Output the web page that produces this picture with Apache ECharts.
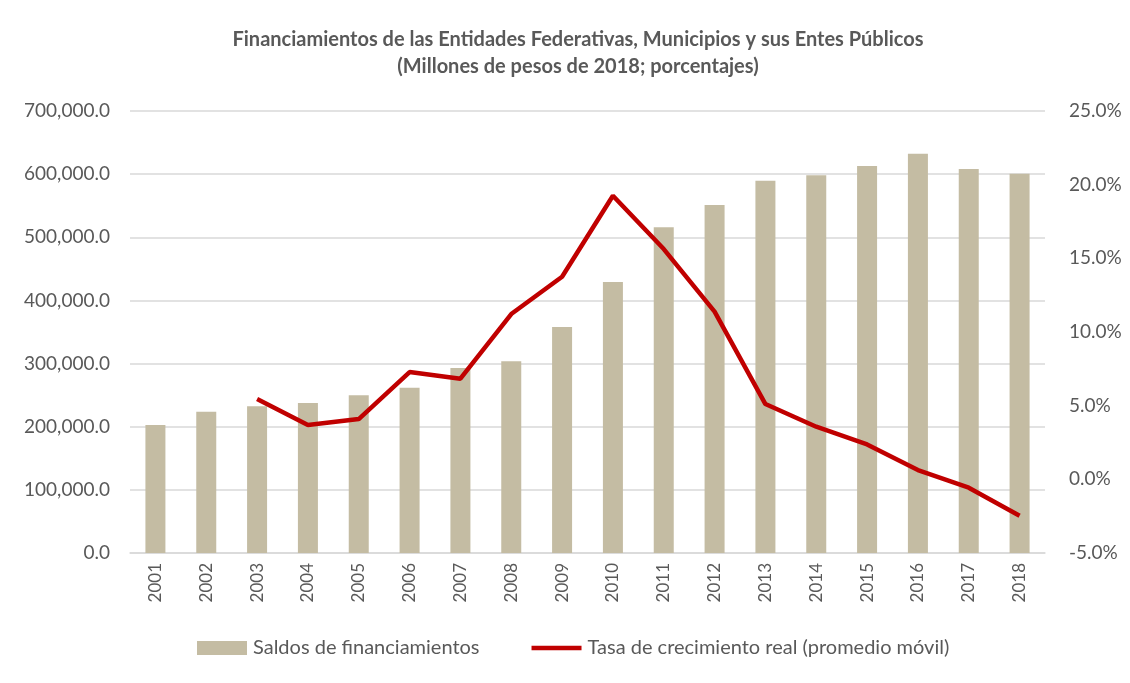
<!DOCTYPE html>
<html>
<head>
<meta charset="utf-8">
<script src="https://cdn.jsdelivr.net/npm/echarts@6/dist/echarts.min.js"></script>
<style>
html,body{margin:0;padding:0;background:#fff;}
#chart{width:1130px;height:683px;}
</style>
</head>
<body>
<div id="chart"></div>
<script>
const years = ['2001','2002','2003','2004','2005','2006','2007','2008','2009','2010','2011','2012','2013','2014','2015','2016','2017','2018'];
const saldos = [202700, 223800, 232300, 237600, 249700, 261800, 293000, 303600, 357900, 429200, 515800, 551100, 589700, 598100, 612900, 632400, 608200, 600800];
const tasa = [null, null, 5.45, 3.69, 4.09, 7.28, 6.83, 11.22, 13.75, 19.25, 15.63, 11.38, 5.11, 3.57, 2.37, 0.63, -0.57, -2.47];
const leftTicks = {min: 0, max: 700000, interval: 100000};
const rightTicks = {min: -5, max: 25, interval: 5};

const font = 'Lato, "Open Sans", sans-serif';
const txt = '#595959';
const chart = echarts.init(document.getElementById('chart'), null, {renderer: 'canvas'});
function fmtThousands(v){
  return v.toFixed(1).replace(/\B(?=(\d{3})+(?!\d))/g, ',');
}
chart.setOption({
  animation: false,
  backgroundColor: '#fff',
  title: {
    text: 'Financiamientos de las Entidades Federativas, Municipios y sus Entes Públicos\n(Millones de pesos de 2018; porcentajes)',
    left: 573,
    top: 21,
    textAlign: 'center',
    textStyle: {fontFamily: font, fontWeight: 'bold', fontSize: 20, color: txt, lineHeight: 27}
  },
  grid: {left: 130, right: 85, top: 111, bottom: 130, containLabel: false},
  legend: {
    left: 192,
    top: 633,
    itemGap: 52,
    itemWidth: 50,
    itemHeight: 14,
    textStyle: {fontFamily: font, fontSize: 20, color: txt, padding: [0, 0, 0, 1]},
    data: [
      {name: 'Saldos de financiamientos', icon: 'rect'},
      {name: 'Tasa de crecimiento real (promedio móvil)', icon: 'path://M0,0L53,0L53,5L0,5Z'}
    ]
  },
  xAxis: {
    type: 'category',
    data: years,
    axisLine: {show: true, lineStyle: {color: '#D9D9D9', width: 1.5}},
    axisTick: {show: false},
    axisLabel: {rotate: 90, fontFamily: font, fontSize: 17, color: txt, margin: 10}
  },
  yAxis: [
    {
      type: 'value',
      min: leftTicks.min, max: leftTicks.max, interval: leftTicks.interval,
      axisLine: {show: false}, axisTick: {show: false},
      splitLine: {lineStyle: {color: '#D9D9D9', width: 1.5}},
      axisLabel: {fontFamily: font, fontSize: 19, color: txt, margin: 20, formatter: v => fmtThousands(v)}
    },
    {
      type: 'value',
      min: rightTicks.min, max: rightTicks.max, interval: rightTicks.interval,
      axisLine: {show: false}, axisTick: {show: false},
      splitLine: {show: false},
      axisLabel: {fontFamily: font, fontSize: 19, color: txt, margin: 24, formatter: v => v.toFixed(1) + '%'}
    }
  ],
  series: [
    {
      name: 'Saldos de financiamientos',
      type: 'bar',
      data: saldos,
      barWidth: 20,
      itemStyle: {color: '#C4BCA3'},
      yAxisIndex: 0
    },
    {
      name: 'Tasa de crecimiento real (promedio móvil)',
      type: 'line',
      data: tasa,
      yAxisIndex: 1,
      showSymbol: false,
      symbol: 'none',
      symbolKeepAspect: true,
      lineStyle: {color: '#C00000', width: 4.5},
      itemStyle: {color: '#C00000'}
    }
  ]
});
</script>
</body>
</html>
